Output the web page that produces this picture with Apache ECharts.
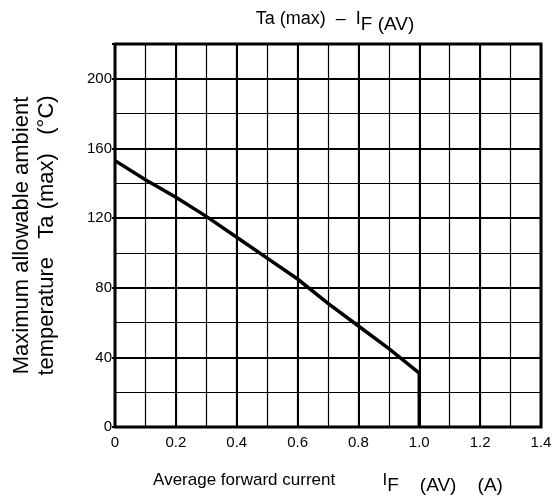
<!DOCTYPE html>
<html>
<head>
<meta charset="utf-8">
<script src="https://cdn.jsdelivr.net/npm/echarts@6/dist/echarts.min.js"></script>
<style>
html,body{margin:0;padding:0;background:#fff;}
#c{width:557px;height:501px;}
</style>
</head>
<body>
<div id="c"></div>
<script>
// Data
const currentA = [0, 0.1, 0.2, 0.3, 0.4, 0.5, 0.6, 0.7, 0.8, 0.9, 1.0, 1.0];
const taMax    = [153, 142, 132, 121, 109, 97, 85, 71, 58, 45, 31, 0];
const xTickLabels = ['0', '0.2', '0.4', '0.6', '0.8', '1.0', '1.2', '1.4'];
const yTickLabels = ['0', '40', '80', '120', '160', '200'];

const FONT = "'Liberation Sans', Arial, Helvetica, sans-serif";
const chart = echarts.init(document.getElementById('c'));
const seriesData = currentA.map((x, i) => [x, taMax[i]]);

const txt = (size, extra) => Object.assign({
  fontSize: size, fontFamily: FONT, fontWeight: 'normal', color: '#000',
  verticalAlign: 'top', lineHeight: 22
}, extra || {});

chart.setOption({
  animation: false,
  backgroundColor: '#fff',
  textStyle: { fontFamily: FONT, color: '#000' },
  title: {
    text: '{a|Ta (max)  –  I}{s|F (AV)}',
    left: 330,
    top: 5,
    textAlign: 'center',
    textStyle: {
      fontWeight: 'normal',
      rich: {
        a: txt(18),
        s: txt(19, { padding: [5, 0, 0, 0] })
      }
    }
  },
  grid: {
    left: 115, right: 16, top: 44, bottom: 74,
    show: true, borderColor: '#000', borderWidth: 3, backgroundColor: 'transparent'
  },
  xAxis: [
    {
      type: 'value', min: 0, max: 1.4, interval: 0.2,
      axisLine: { show: false },
      axisTick: { show: false },
      axisLabel: {
        fontSize: 15, color: '#000', fontFamily: FONT, margin: 8,
        formatter: (v, i) => xTickLabels[i] !== undefined ? xTickLabels[i] : ''
      },
      splitLine: { show: true, lineStyle: { color: '#000', width: 2 } },
      name: '{a|Average forward current          I}{s|F    (AV)}{s|    (A)}',
      nameLocation: 'middle',
      nameGap: 45,
      nameTextStyle: {
        fontWeight: 'normal',
        rich: {
          a: txt(17),
          s: txt(19, { padding: [4, 0, 0, 0] })
        }
      }
    },
    {
      type: 'value', min: 0, max: 1.4, interval: 0.1, position: 'bottom',
      axisLine: { show: false }, axisTick: { show: false }, axisLabel: { show: false },
      splitLine: { show: true, lineStyle: { color: '#000', width: 1.2 } }
    }
  ],
  yAxis: [
    {
      type: 'value', min: 0, max: 220, interval: 40,
      axisLine: { show: false },
      axisTick: { show: true, length: 3, lineStyle: { color: '#000', width: 2 } },
      axisLabel: {
        fontSize: 15, color: '#000', fontFamily: FONT, margin: 3,
        formatter: (v, i) => yTickLabels[i] !== undefined && v <= 200 ? yTickLabels[i] : ''
      },
      splitLine: { show: true, lineStyle: { color: '#000', width: 2 } },
      name: '{a|Maximum allowable ambient}\n{a|temperature   Ta (max)   (°C)}',
      nameLocation: 'middle',
      nameRotate: 90,
      nameGap: 56,
      nameTextStyle: {
        fontWeight: 'normal',
        rich: {
          a: { fontSize: 22, fontFamily: FONT, color: '#000', lineHeight: 25 }
        }
      }
    },
    {
      type: 'value', min: 0, max: 220, interval: 20, position: 'left',
      axisLine: { show: false }, axisTick: { show: false }, axisLabel: { show: false },
      splitLine: { show: true, lineStyle: { color: '#000', width: 1.2 } }
    }
  ],
  series: [
    {
      type: 'line',
      xAxisIndex: 0, yAxisIndex: 0,
      data: seriesData,
      showSymbol: false,
      symbol: 'none',
      lineStyle: { color: '#000', width: 3.5, join: 'miter' },
      z: 10
    }
  ]
});
</script>
</body>
</html>
